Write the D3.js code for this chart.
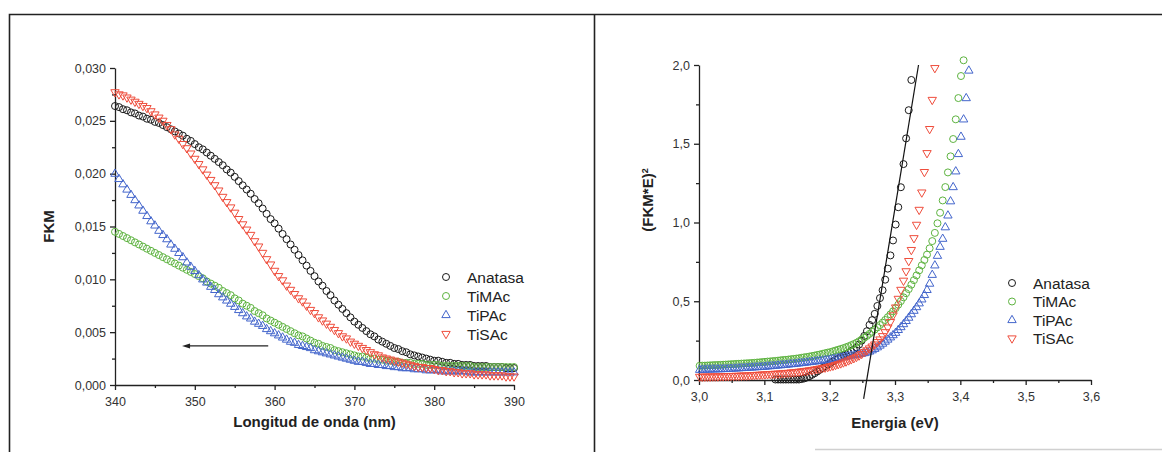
<!DOCTYPE html>
<html><head><meta charset="utf-8">
<script src="https://cdn.jsdelivr.net/npm/d3@7"></script>
<style>body{margin:0;background:#fff}svg{display:block}text{font-family:Arial,"Liberation Sans",sans-serif}</style>
</head><body><svg id="c" width="1162" height="452"></svg>
<script>
// ---------- DATA: left panel (FKM vs wavelength) ----------
const seriesNames = ["Anatasa", "TiMAc", "TiPAc", "TiSAc"];
const wavelength = [340,340.5,341,341.5,342,342.5,343,343.5,344,344.5,345,345.5,346,346.5,347,347.5,348,348.5,349,349.5,350,350.5,351,351.5,352,352.5,353,353.5,354,354.5,355,355.5,356,356.5,357,357.5,358,358.5,359,359.5,360,360.5,361,361.5,362,362.5,363,363.5,364,364.5,365,365.5,366,366.5,367,367.5,368,368.5,369,369.5,370,370.5,371,371.5,372,372.5,373,373.5,374,374.5,375,375.5,376,376.5,377,377.5,378,378.5,379,379.5,380,380.5,381,381.5,382,382.5,383,383.5,384,384.5,385,385.5,386,386.5,387,387.5,388,388.5,389,389.5,390];
const fkmAnatasa = [.0264,.0263,.0261,.0260,.0258,.0257,.0255,.0254,.0252,.0251,.0249,.0248,.0246,.0244,.0242,.0240,.0238,.0236,.0233,.0231,.0228,.0225,.0223,.0220,.0217,.0214,.0211,.0208,.0204,.0201,.0197,.0193,.0189,.0185,.0181,.0176,.0172,.0167,.0162,.0157,.0153,.0148,.0143,.0138,.0133,.0128,.0123,.0118,.0113,.0108,.0103,.0098,.0094,.0089,.0085,.0080,.0076,.0072,.0068,.0064,.0060,.0057,.0054,.0051,.0048,.0046,.0043,.0041,.0039,.0037,.0035,.0034,.0032,.0031,.0029,.0028,.0027,.0026,.0025,.0024,.0023,.0023,.0022,.0021,.0021,.0020,.0020,.0019,.0019,.0019,.0018,.0018,.0018,.0018,.0017,.0017,.0017,.0017,.0016,.0016,.0016];
const fkmTiMAc = [.0145,.0143,.0141,.0139,.0137,.0135,.0133,.0131,.0129,.0127,.0125,.0123,.0121,.0119,.0117,.0115,.0113,.0111,.0109,.0107,.0105,.0103,.0101,.0098,.0096,.0094,.0092,.0089,.0087,.0085,.0082,.0080,.0077,.0075,.0073,.0070,.0068,.0066,.0063,.0061,.0059,.0057,.0055,.0053,.0051,.0049,.0047,.0046,.0044,.0042,.0040,.0039,.0037,.0036,.0035,.0033,.0032,.0031,.0030,.0029,.0028,.0027,.0027,.0026,.0025,.0025,.0024,.0024,.0023,.0023,.0022,.0022,.0021,.0021,.0021,.0020,.0020,.0020,.0019,.0019,.0019,.0019,.0018,.0018,.0018,.0018,.0018,.0018,.0018,.0018,.0017,.0017,.0017,.0017,.0017,.0017,.0017,.0017,.0017,.0017,.0017];
const fkmTiPAc = [.0200,.0195,.0190,.0185,.0180,.0175,.0170,.0165,.0160,.0155,.0151,.0146,.0142,.0138,.0133,.0129,.0125,.0121,.0116,.0112,.0108,.0104,.0100,.0097,.0093,.0090,.0086,.0083,.0080,.0077,.0074,.0071,.0068,.0065,.0063,.0060,.0058,.0056,.0053,.0051,.0049,.0047,.0045,.0043,.0041,.0040,.0038,.0037,.0036,.0035,.0033,.0032,.0031,.0030,.0029,.0028,.0027,.0026,.0025,.0024,.0023,.0022,.0022,.0021,.0020,.0020,.0019,.0019,.0018,.0018,.0017,.0017,.0016,.0016,.0016,.0015,.0015,.0015,.0014,.0014,.0014,.0014,.0013,.0013,.0013,.0013,.0013,.0013,.0013,.0012,.0012,.0012,.0012,.0012,.0012,.0012,.0012,.0012,.0012,.0012,.0012];
const fkmTiSAc = [.0277,.0275,.0274,.0272,.0270,.0268,.0266,.0264,.0262,.0259,.0256,.0253,.0250,.0246,.0242,.0237,.0233,.0228,.0224,.0219,.0214,.0209,.0204,.0199,.0194,.0189,.0184,.0178,.0173,.0168,.0163,.0157,.0152,.0147,.0142,.0136,.0131,.0125,.0119,.0114,.0108,.0103,.0099,.0094,.0090,.0086,.0082,.0079,.0075,.0071,.0068,.0064,.0061,.0058,.0055,.0052,.0049,.0046,.0044,.0041,.0039,.0037,.0035,.0033,.0031,.0029,.0028,.0026,.0025,.0024,.0023,.0022,.0021,.0020,.0019,.0018,.0017,.0017,.0016,.0016,.0015,.0014,.0014,.0013,.0013,.0012,.0012,.0011,.0011,.0011,.0010,.0010,.0010,.0010,.0009,.0009,.0009,.0009,.0008,.0008,.0008];
const leftXTicks = [340,350,360,370,380,390];
const leftXMinor = [345,355,365,375,385];
const leftYTicks = [0,0.005,0.010,0.015,0.020,0.025,0.030];
const leftYMinor = [0.0025,0.0075,0.0125,0.0175,0.0225,0.0275];
const arrowNm = [359.2, 348.4];
const arrowFkm = 0.0037;

// ---------- DATA: right panel ((FKM*E)^2 vs energy) ----------
const energy = [3.001,3.005,3.009,3.013,3.017,3.021,3.025,3.029,3.033,3.037,3.041,3.045,3.049,3.053,3.057,3.061,3.065,3.069,3.073,3.077,3.081,3.085,3.089,3.093,3.097,3.101,3.105,3.109,3.113,3.117,3.121,3.125,3.129,3.133,3.137,3.141,3.145,3.149,3.153,3.157,3.161,3.165,3.169,3.173,3.177,3.181,3.185,3.189,3.193,3.197,3.201,3.205,3.209,3.213,3.217,3.221,3.225,3.229,3.233,3.237,3.241,3.245,3.249,3.253,3.257,3.261,3.265,3.269,3.273,3.277,3.281,3.285,3.289,3.293,3.297,3.301,3.305,3.309,3.313,3.317,3.321,3.325,3.329,3.333,3.337,3.341,3.345,3.349,3.353,3.357,3.361,3.365,3.369,3.373,3.377,3.381,3.385,3.389,3.393,3.397,3.401,3.405,3.409,3.413];
// null = point lies below the plotted range (not shown)
const taucAnatasa = [null,null,null,null,null,null,null,null,null,null,null,null,null,null,null,null,null,null,null,null,null,null,null,null,null,null,null,null,null,.003,.003,.003,.003,.003,.003,.003,.003,.003,.003,.006,.010,.016,.024,.033,.043,.054,.065,.076,.087,.098,.108,.118,.128,.137,.146,.155,.164,.173,.183,.194,.207,.225,.25,.28,.31,.35,.38,.42,.47,.52,.57,.637,.707,.791,.886,.987,1.097,1.224,1.371,1.534,1.713,1.905];
const taucTiMAc = [.090,.091,.091,.092,.093,.094,.095,.095,.096,.097,.098,.099,.100,.101,.102,.103,.104,.105,.106,.107,.108,.109,.111,.112,.114,.115,.117,.118,.120,.121,.123,.125,.127,.128,.130,.132,.134,.136,.138,.141,.144,.146,.149,.152,.155,.159,.162,.166,.170,.174,.177,.182,.187,.192,.197,.202,.208,.214,.221,.228,.236,.246,.257,.268,.280,.293,.306,.320,.334,.349,.364,.381,.399,.417,.436,.456,.478,.501,.525,.551,.577,.605,.634,.664,.696,.728,.762,.796,.836,.882,.934,.995,1.062,1.140,1.225,1.318,1.420,1.530,1.655,1.790,1.930,2.030];
const taucTiPAc = [.065,.066,.066,.067,.067,.068,.068,.069,.069,.070,.070,.071,.072,.073,.074,.075,.076,.077,.078,.079,.080,.081,.082,.083,.084,.085,.087,.088,.090,.091,.093,.094,.096,.097,.099,.101,.102,.104,.106,.108,.110,.112,.114,.116,.118,.120,.122,.124,.126,.128,.131,.134,.137,.140,.143,.146,.149,.152,.155,.158,.161,.164,.167,.171,.175,.181,.189,.198,.208,.219,.231,.244,.257,.271,.285,.300,.318,.336,.355,.375,.396,.418,.440,.463,.487,.512,.540,.572,.612,.668,.728,.789,.846,.897,.970,1.045,1.135,1.225,1.325,1.435,1.545,1.655,1.790,1.965];
const taucTiSAc = [.020,.020,.021,.021,.021,.022,.022,.022,.023,.023,.024,.024,.025,.025,.026,.026,.027,.028,.028,.029,.030,.031,.032,.033,.034,.035,.036,.037,.038,.039,.040,.041,.042,.044,.045,.047,.048,.050,.052,.054,.056,.058,.061,.063,.066,.069,.072,.075,.078,.082,.086,.090,.095,.100,.105,.111,.117,.124,.131,.138,.146,.155,.165,.176,.188,.200,.212,.225,.240,.257,.278,.303,.333,.368,.410,.460,.515,.572,.630,.690,.755,.825,.900,.985,1.080,1.190,1.320,1.440,1.593,1.778,1.980];
const fitEnergy = [3.252, 3.336];
const fitValue = [-0.12, 2.0];
const rightXTicks = [3.0,3.1,3.2,3.3,3.4,3.5,3.6];
const rightXMinor = [3.05,3.15,3.25,3.35,3.45,3.55];
const rightYTicks = [0,0.5,1.0,1.5,2.0];
const rightYMinor = [0.25,0.75,1.25,1.75];

// ---------- STYLE ----------
const colors = {Anatasa:"#1a1a1a", TiMAc:"#5db33f", TiPAc:"#4466cc", TiSAc:"#ef4d3c"};
const shapes = {Anatasa:"circle", TiMAc:"circle", TiPAc:"up", TiSAc:"down"};
const AX = "#222", LBL = "#333";

const svg = d3.select("#c");

// outer frame
svg.append("path").attr("d","M9.5,452V14.5H1162").attr("fill","none").attr("stroke","#222").attr("stroke-width",1.6);
svg.append("line").attr("x1",594.5).attr("x2",594.5).attr("y1",14.5).attr("y2",452).attr("stroke","#222").attr("stroke-width",1.6);
svg.append("line").attr("x1",815).attr("x2",1162).attr("y1",449.5).attr("y2",449.5).attr("stroke","#d0d0d0").attr("stroke-width",1.5);

function marker(g, shape, color, cx, cy){
  if(shape==="circle"){
    g.append("circle").attr("cx",cx).attr("cy",cy).attr("r",3.5)
      .attr("fill","none").attr("stroke",color).attr("stroke-width",1);
  } else {
    const d = shape==="up" ? "M0,-4.7L4.2,2.6L-4.2,2.6Z" : "M0,4.7L4.2,-2.6L-4.2,-2.6Z";
    g.append("path").attr("d",d).attr("transform",`translate(${cx},${cy})`)
      .attr("fill","none").attr("stroke",color).attr("stroke-width",1);
  }
}

function drawAxes(g, x, y, xt, xm, yt, ym, xfmt, yfmt){
  g.append("g").attr("transform",`translate(0,${y.range()[0]})`)
    .call(d3.axisBottom(x).tickValues(xt).tickSize(5).tickSizeOuter(0).tickPadding(7).tickFormat(xfmt));
  g.append("g").attr("transform",`translate(0,${y.range()[0]})`)
    .call(d3.axisBottom(x).tickValues(xm).tickSize(3).tickFormat("")).select(".domain").remove();
  g.append("g").attr("transform",`translate(${x.range()[0]},0)`)
    .call(d3.axisLeft(y).tickValues(yt).tickSize(5).tickSizeOuter(0).tickPadding(4).tickFormat(yfmt));
  g.append("g").attr("transform",`translate(${x.range()[0]},0)`)
    .call(d3.axisLeft(y).tickValues(ym).tickSize(3).tickFormat("")).select(".domain").remove();
  g.selectAll(".domain, .tick line").attr("stroke",AX).attr("stroke-width",1.3);
  g.selectAll(".tick text").attr("fill",LBL).style("font-size","12.5px").style("font-family","Arial, 'Liberation Sans', sans-serif");
}

function legend(g, x0, y0, dy){
  seriesNames.forEach((n,i)=>{
    const cy = y0 + i*dy;
    marker(g, shapes[n], colors[n], x0, cy);
    g.append("text").attr("x",x0+21).attr("y",cy+5.5).text(n)
      .attr("fill","#222").style("font-size","15.5px");
  });
}

// ---------- LEFT PANEL ----------
{
  const g = svg.append("g");
  const x = d3.scaleLinear().domain([340,390]).range([115,514]);
  const y = d3.scaleLinear().domain([0,0.030]).range([385,68]);
  const series = {Anatasa:fkmAnatasa, TiMAc:fkmTiMAc, TiPAc:fkmTiPAc, TiSAc:fkmTiSAc};
  const comma = f => v => d3.format(f)(v).replace(".",",");
  drawAxes(g, x, y, leftXTicks, leftXMinor, leftYTicks, leftYMinor, d3.format("d"), comma(".3f"));
  const m = g.append("g");
  seriesNames.forEach(n=>{
    series[n].forEach((v,i)=> marker(m, shapes[n], colors[n], x(wavelength[i]), y(v)));
  });
  // arrow
  const ax1 = x(arrowNm[0]), ax2 = x(arrowNm[1]), ay = y(arrowFkm);
  g.append("line").attr("x1",ax1).attr("x2",ax2+6).attr("y1",ay).attr("y2",ay).attr("stroke","#222").attr("stroke-width",1.2);
  g.append("path").attr("d",`M${ax2},${ay}L${ax2+8},${ay-2.5}L${ax2+8},${ay+2.5}Z`).attr("fill","#222");
  legend(g, 446, 277, 19);
  g.append("text").attr("transform",`translate(49,${(68+385)/2}) rotate(-90)`).attr("text-anchor","middle")
    .attr("dy","0.35em").style("font-size","15px").style("font-weight","bold").attr("fill","#222").text("FKM");
  g.append("text").attr("x",(115+514)/2).attr("y",427).attr("text-anchor","middle")
    .style("font-size","15px").style("font-weight","bold").attr("fill","#222").text("Longitud de onda (nm)");
}

// ---------- RIGHT PANEL ----------
{
  const g = svg.append("g");
  const x = d3.scaleLinear().domain([3.0,3.6]).range([699,1091]);
  const y = d3.scaleLinear().domain([0,2.0]).range([380,65]);
  const series = {Anatasa:taucAnatasa, TiMAc:taucTiMAc, TiPAc:taucTiPAc, TiSAc:taucTiSAc};
  const comma = v => d3.format(".1f")(v).replace(".",",");
  drawAxes(g, x, y, rightXTicks, rightXMinor, rightYTicks, rightYMinor, comma, comma);
  const m = g.append("g");
  seriesNames.forEach(n=>{
    series[n].forEach((v,i)=> { if(v!==null) marker(m, shapes[n], colors[n], x(energy[i]), y(v)); });
  });
  g.append("line").attr("x1",x(fitEnergy[0])).attr("y1",y(fitValue[0]))
    .attr("x2",x(fitEnergy[1])).attr("y2",y(fitValue[1])).attr("stroke","#111").attr("stroke-width",1.2);
  legend(g, 1012, 283, 18.5);
  const t = g.append("text").attr("transform",`translate(648,200) rotate(-90)`).attr("text-anchor","middle")
    .attr("dy","0.35em").style("font-size","15px").style("font-weight","bold").attr("fill","#222");
  t.append("tspan").text("(FKM*E)");
  t.append("tspan").attr("dy","-0.55em").style("font-size","9px").text("2");
  g.append("text").attr("x",(699+1091)/2).attr("y",428).attr("text-anchor","middle")
    .style("font-size","15px").style("font-weight","bold").attr("fill","#222").text("Energia (eV)");
}
</script>
</body></html>
